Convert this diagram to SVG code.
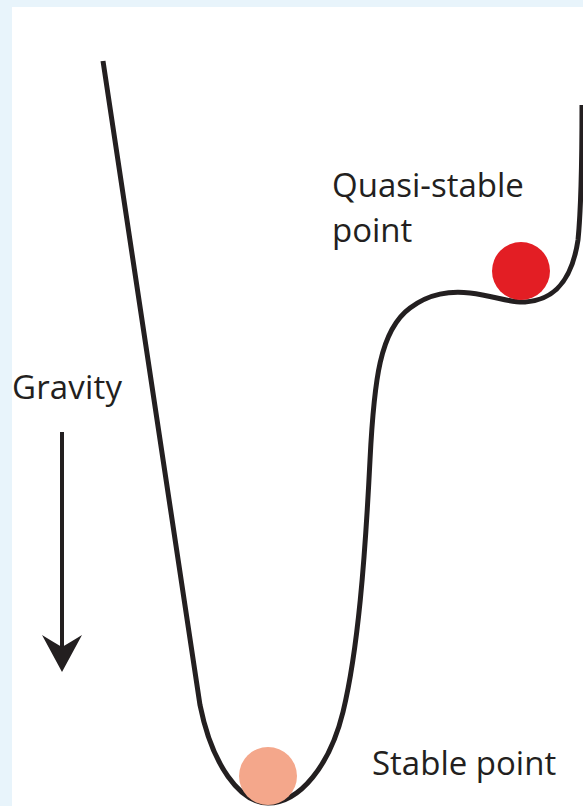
<svg xmlns="http://www.w3.org/2000/svg" width="583" height="806" viewBox="0 0 583 806">
  <style>
    .lbl { font-family: "Open Sans", "Noto Sans", "Liberation Sans", sans-serif; font-size: 33px; fill: #231f20; }
    .curve { fill: none; stroke: #231f20; stroke-width: 5; stroke-linecap: butt; }
  </style>
  <rect x="0" y="0" width="583" height="806" fill="#e8f4fb"/>
  <rect x="12" y="7" width="571" height="799" fill="#ffffff"/>
  <g id="landscape">
    <path class="curve" d="M103,61 L200,705 C212,765 240,803 268,803 C300,803 330,765 343,712 C358,650 365,560 370,460 C374,380 380,330 410,308 C430,293 450,291 470,293 C495,296 510,303 525,302 C555,300 572,280 578,240 C582,200 582,150 582,105"/>
  </g>
  <g id="stable-ball">
    <circle cx="268" cy="776" r="29" fill="#f4a78b"/>
  </g>
  <g id="quasi-ball">
    <circle cx="521" cy="271" r="29" fill="#e31e24"/>
  </g>
  <g id="gravity">
    <text class="lbl" x="12" y="399" textLength="110">Gravity</text>
    <line x1="62" y1="432" x2="62" y2="650" stroke="#231f20" stroke-width="4"/>
    <path d="M62,672 L42,635 Q55,643 62,647 Q69,643 82,635 Z" fill="#231f20"/>
  </g>
  <g id="labels">
    <text class="lbl" x="332" y="197">Quasi-stable</text>
    <text class="lbl" x="332" y="242">point</text>
    <text class="lbl" x="372" y="775">Stable point</text>
  </g>
</svg>
